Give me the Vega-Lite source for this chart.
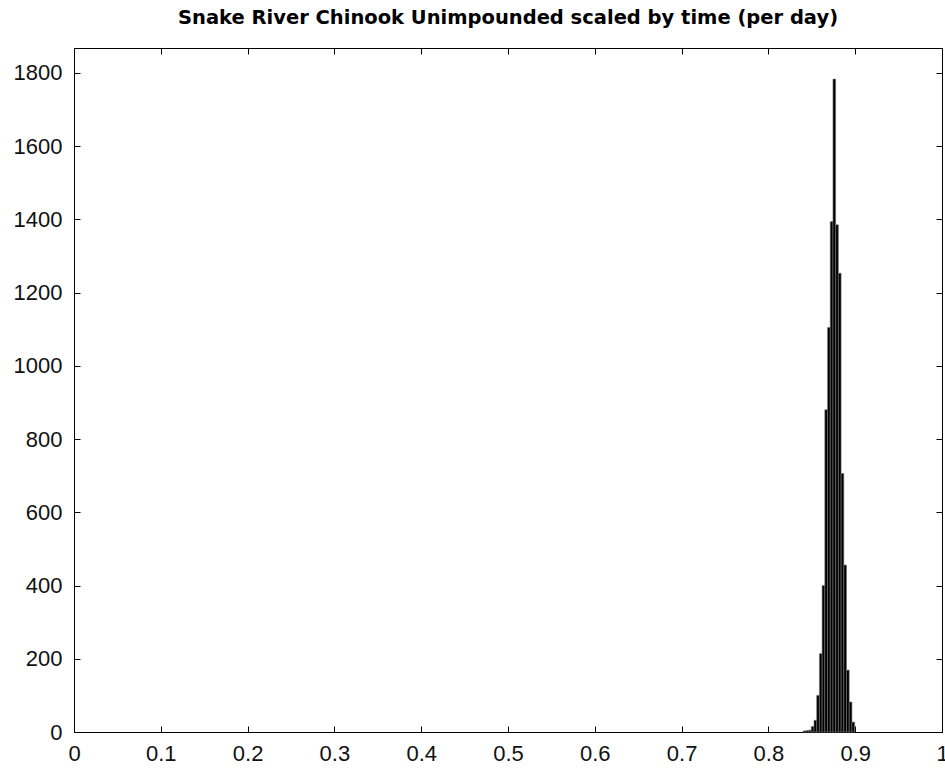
{
  "$schema": "https://vega.github.io/schema/vega-lite/v6.json",
  "width": 868,
  "height": 684,
  "autosize": {"type": "none"},
  "padding": {"left": 74, "top": 48, "right": 3, "bottom": 36},
  "background": "white",
  "title": {"text": "Snake River Chinook Unimpounded scaled by time (per day)", "font": "DejaVu Sans", "fontSize": 19.5, "fontWeight": "bold", "color": "black", "offset": 19, "anchor": "middle"},
  "config": {
    "view": {"stroke": "black", "strokeWidth": 1},
    "axis": {"grid": false, "domain": false, "tickColor": "black", "tickSize": -6, "labelFont": "Liberation Sans", "labelFontSize": 22, "labelColor": "#111111", "title": null}
  },
  "data": {"values": [
    {"lo": 0.84, "hi": 0.843125, "count": 3},
    {"lo": 0.843125, "hi": 0.84625, "count": 4},
    {"lo": 0.84625, "hi": 0.849375, "count": 5},
    {"lo": 0.849375, "hi": 0.8525, "count": 15},
    {"lo": 0.8525, "hi": 0.855625, "count": 32},
    {"lo": 0.855625, "hi": 0.85875, "count": 100},
    {"lo": 0.85875, "hi": 0.861875, "count": 214},
    {"lo": 0.861875, "hi": 0.865, "count": 400},
    {"lo": 0.865, "hi": 0.868125, "count": 880},
    {"lo": 0.868125, "hi": 0.87125, "count": 1105},
    {"lo": 0.87125, "hi": 0.874375, "count": 1394},
    {"lo": 0.874375, "hi": 0.8775, "count": 1783},
    {"lo": 0.8775, "hi": 0.880625, "count": 1385},
    {"lo": 0.880625, "hi": 0.88375, "count": 1253},
    {"lo": 0.88375, "hi": 0.886875, "count": 706},
    {"lo": 0.886875, "hi": 0.89, "count": 456},
    {"lo": 0.89, "hi": 0.893125, "count": 169},
    {"lo": 0.893125, "hi": 0.89625, "count": 82},
    {"lo": 0.89625, "hi": 0.899375, "count": 27}
  ]},
  "layer": [
    {
      "mark": {"type": "rect", "fill": "black", "stroke": "#777777", "strokeWidth": 0.6},
      "encoding": {
        "x": {"field": "lo", "type": "quantitative", "scale": {"domain": [0, 1], "nice": false, "zero": false}, "axis": {"orient": "bottom", "values": [0, 0.1, 0.2, 0.3, 0.4, 0.5, 0.6, 0.7, 0.8, 0.9, 1], "labelPadding": 17, "labelFlush": false, "format": "~g"}},
        "x2": {"field": "hi"},
        "y": {"field": "count", "type": "quantitative", "scale": {"domain": [0, 1868], "nice": false}, "axis": {"orient": "left", "values": [0, 200, 400, 600, 800, 1000, 1200, 1400, 1600, 1800], "labelPadding": 18, "labelFlush": false, "format": "d"}},
        "y2": {"datum": 0}
      }
    },
    {
      "mark": {"type": "point", "opacity": 0, "size": 1},
      "encoding": {
        "x": {"field": "lo", "type": "quantitative", "scale": {"domain": [0, 1], "nice": false, "zero": false}, "axis": {"orient": "top", "values": [0, 0.1, 0.2, 0.3, 0.4, 0.5, 0.6, 0.7, 0.8, 0.9, 1], "labels": false}},
        "y": {"field": "count", "type": "quantitative", "scale": {"domain": [0, 1868], "nice": false}, "axis": {"orient": "right", "values": [0, 200, 400, 600, 800, 1000, 1200, 1400, 1600, 1800], "labels": false}}
      }
    }
  ],
  "resolve": {"axis": {"x": "independent", "y": "independent"}}
}
